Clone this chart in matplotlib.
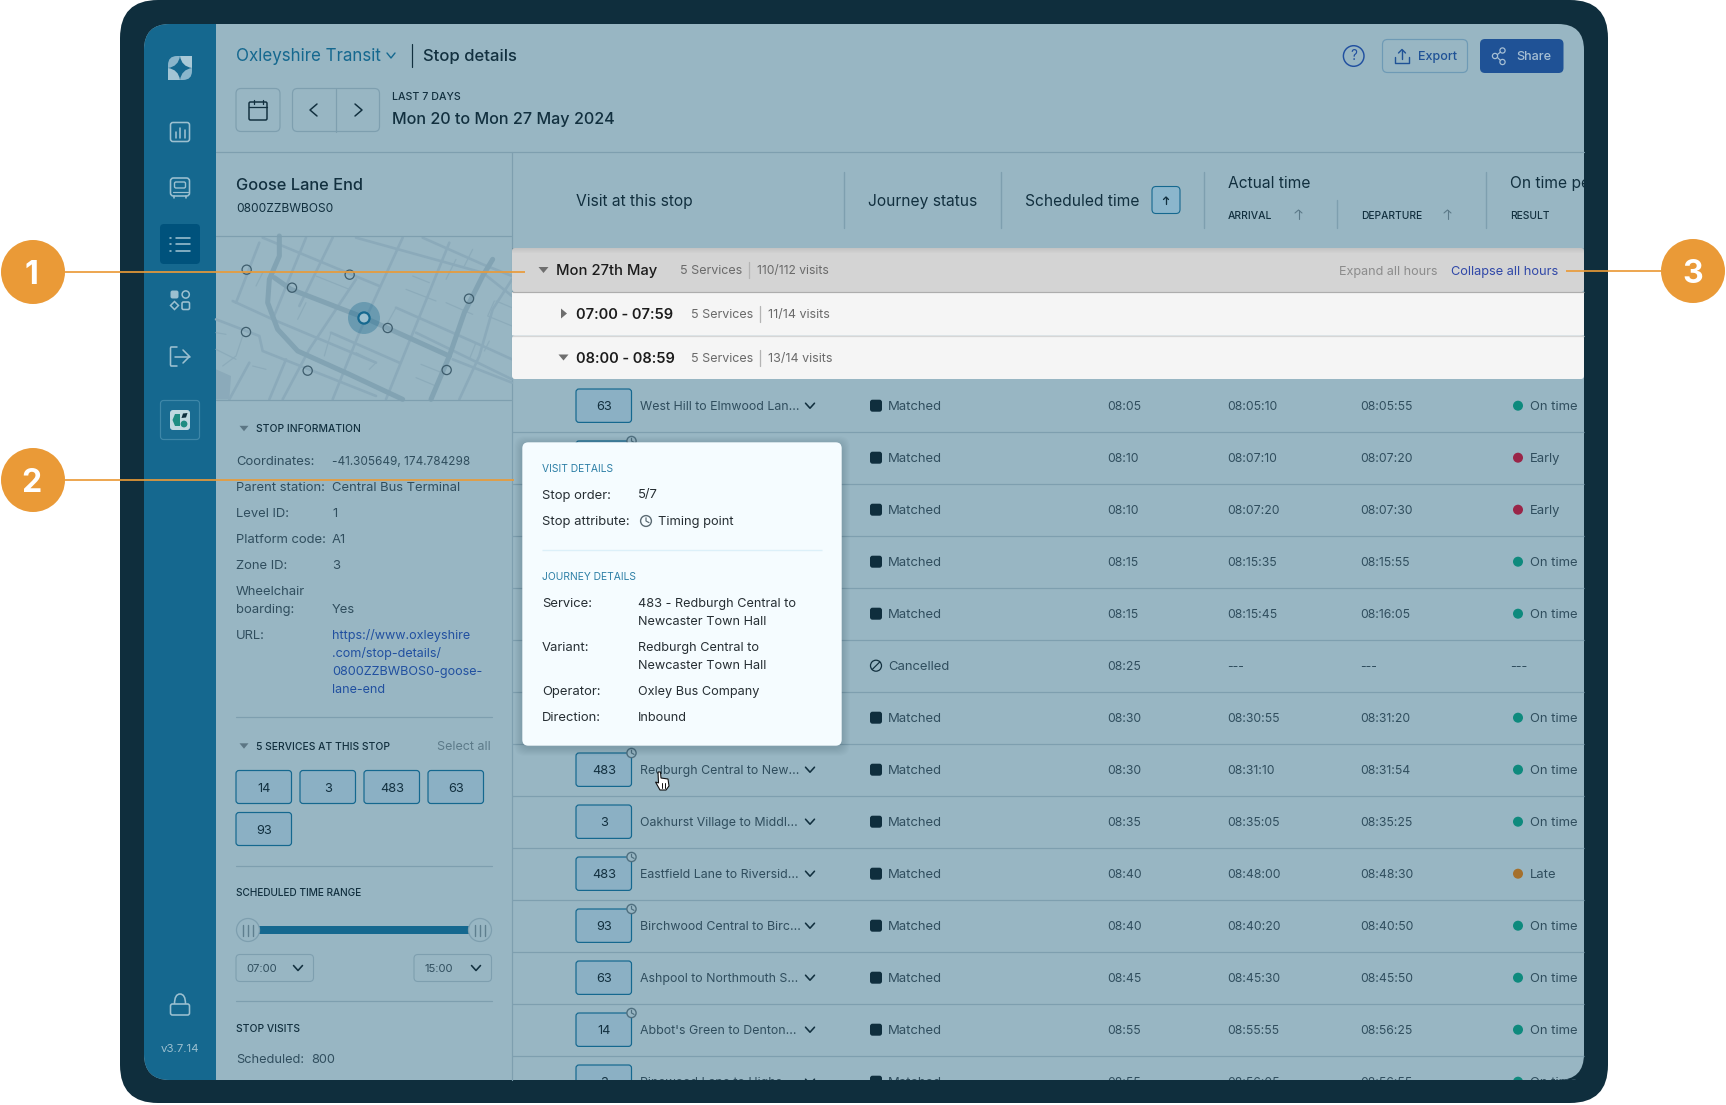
import matplotlib
matplotlib.use("Agg")
import matplotlib.pyplot as plt
from matplotlib.patches import FancyBboxPatch, Circle, Polygon, PathPatch, Rectangle
from matplotlib.path import Path
from matplotlib.transforms import Bbox, TransformedBbox

plt.rcParams['font.family'] = ['Inter', 'DejaVu Sans']

# ---------- data ----------
services = ["63", "", "", "", "", "", "", "483", "3", "483", "93", "63", "14", "3"]
routes = ["West Hill to Elmwood Lan...", "", "", "", "", "", "",
          "Redburgh Central to New...", "Oakhurst Village to Middl...",
          "Eastfield Lane to Riversid...", "Birchwood Central to Birc...",
          "Ashpool to Northmouth S...", "Abbot's Green to Denton...",
          "Pinewood Lane to Highs..."]
timing_point = [0, 1, 0, 0, 0, 0, 0, 1, 0, 1, 1, 0, 1, 0]
statuses = ["Matched"] * 5 + ["Cancelled"] + ["Matched"] * 8
scheduled = ["08:05", "08:10", "08:10", "08:15", "08:15", "08:25", "08:30",
             "08:30", "08:35", "08:40", "08:40", "08:45", "08:55", "08:55"]
arrivals = ["08:05:10", "08:07:10", "08:07:20", "08:15:35", "08:15:45", "---",
            "08:30:55", "08:31:10", "08:35:05", "08:48:00", "08:40:20",
            "08:45:30", "08:55:55", "08:56:05"]
departures = ["08:05:55", "08:07:20", "08:07:30", "08:15:55", "08:16:05", "---",
              "08:31:20", "08:31:54", "08:35:25", "08:48:30", "08:40:50",
              "08:45:50", "08:56:25", "08:56:55"]
results = ["On time", "Early", "Early", "On time", "On time", "---", "On time",
           "On time", "On time", "Late", "On time", "On time", "On time", "On time"]
stop_info = [("Coordinates:", "-41.305649, 174.784298"),
             ("Parent station:", "Central Bus Terminal"),
             ("Level ID:", "1"), ("Platform code:", "A1"), ("Zone ID:", "3")]
url_lines = ["https://www.oxleyshire", ".com/stop-details/",
             "0800ZZBWBOS0-goose-", "lane-end"]
chips = ["14", "3", "483", "63", "93"]
hour_groups = [("07:00 - 07:59", "5 Services", "11/14 visits"),
               ("08:00 - 08:59", "5 Services", "13/14 visits")]

# map decoration, in crop units of one third of a pixel
major_roads = [[(190, 0), (190, 60), (160, 130), (155, 200), (185, 280), (245, 345), (400, 415), (560, 490)],
               [(175, 125), (225, 160), (445, 245), (700, 360)],
               [(830, 70), (800, 120), (745, 230), (700, 360), (645, 490)]]
minor_roads = [[(140, 5), (490, 150)], [(50, 195), (170, 250), (480, 380)],
               [(0, 250), (130, 300), (140, 345), (480, 480)],
               [(420, 5), (800, 110), (888, 180)], [(620, 5), (800, 85), (888, 120)],
               [(345, 290), (550, 380)], [(540, 215), (800, 330), (888, 370)],
               [(600, 290), (888, 430)], [(710, 370), (888, 440)],
               [(60, 200), (130, 20)], [(350, 5), (250, 210)], [(270, 5), (170, 250)],
               [(560, 5), (430, 290), (350, 490)], [(700, 20), (510, 490)],
               [(888, 130), (830, 220), (790, 360), (730, 490)],
               [(420, 130), (280, 340), (200, 490)], [(100, 380), (40, 490)],
               [(210, 370), (160, 490)]]
alleys = [[(300, 120), (400, 160)], [(570, 160), (660, 195)], [(690, 200), (770, 235)],
          [(540, 215), (515, 260)], [(345, 290), (325, 360)],
          [(420, 350), (480, 380), (460, 400)], [(615, 385), (690, 415)], [(600, 425), (660, 450)],
          [(840, 195), (888, 215)], [(835, 195), (815, 240), (888, 270)],
          [(120, 150), (140, 110)], [(0, 290), (30, 295)], [(110, 390), (150, 400)],
          [(780, 320), (760, 370)], [(820, 315), (805, 345)], [(720, 70), (690, 130)],
          [(770, 40), (745, 90)], [(0, 340), (60, 370)], [(270, 200), (245, 250)],
          [(590, 120), (640, 140)], [(80, 300), (60, 360), (20, 390)]]
map_stops = [(92, 101), (401, 116), (228, 155), (759, 188), (90, 288), (515, 276), (275, 404), (692, 402)]
map_shade = [(0, 400), (45, 420), (40, 490), (0, 490)]

# ---------- colours ----------
DEVICE = "#0F2E3D"; SCREEN = "#98B6C3"; SIDE = "#15688F"; ACTIVE = "#00527C"
INK = "#12303F"; MUTED = "#304E5E"; LINE = "#7E9FAF"; ORANGE = "#EA9A37"
LINK = "#2150A0"; CHIP = "#8BB0C4"; CHIPE = "#15688F"; ICON = "#9CC0D0"
DOTS = {"On time": "#0E8A7D", "Early": "#9A2548", "Late": "#A5702C"}

fig = plt.figure(figsize=(17.26, 11.05), dpi=100, facecolor="white")
ax = fig.add_axes([0, 0, 1, 1])
ax.set_xlim(0, 1726); ax.set_ylim(1105, 0); ax.axis("off")
screen_box = TransformedBbox(Bbox([[144, 24], [1584, 1080]]), ax.transData)


def rrect(x0, y0, x1, y1, r=0, fc="none", ec="none", lw=1.0, z=2, alpha=None, clip=None):
    p = FancyBboxPatch((x0, y0), x1 - x0, y1 - y0, boxstyle=f"round,pad=0,rounding_size={max(r, 0.01)}",
                       fc=fc, ec=ec, lw=lw * 0.72, zorder=z, alpha=alpha)
    ax.add_patch(p)
    if clip is not None:
        p.set_clip_path(clip)
    return p


def T(x, y, s, px=13, color=INK, ha="left", weight="normal", z=3, clip=None):
    t = ax.text(x, y + 0.36 * px, s, fontsize=px * 0.72, color=color, ha=ha, va="baseline",
                fontweight=weight, zorder=z)
    if clip is not None:
        t.set_clip_box(screen_box)
        t.set_clip_on(True)
    return t


def L(xs, ys, color=LINE, lw=1.0, z=2, clip=None, cap="round"):
    ln, = ax.plot(xs, ys, color=color, lw=lw * 0.72, zorder=z, solid_capstyle=cap, solid_joinstyle="round")
    if clip is not None:
        ln.set_clip_path(clip)
    return ln


def chevron(cx, cy, w=4.5, h=2.5, color=INK, lw=1.6, z=3, clip=None):
    L([cx - w, cx, cx + w], [cy - h, cy + h, cy - h], color, lw, z, clip)


def tri_down(cx, cy, s=5, color="#5C7684", z=3):
    ax.add_patch(Polygon([(cx - s, cy - s * 0.6), (cx + s, cy - s * 0.6), (cx, cy + s * 0.6)], fc=color, ec="none", zorder=z))


def tri_right(cx, cy, s=5, color="#6E6E6E", z=3):
    ax.add_patch(Polygon([(cx - s * 0.6, cy - s), (cx - s * 0.6, cy + s), (cx + s * 0.6, cy)], fc=color, ec="none", zorder=z))


def clock(cx, cy, r=4.6, color="#4F6F7F", z=4, fc="none", clip=None):
    c = Circle((cx, cy), r, fc=fc, ec=color, lw=1.0, zorder=z)
    ax.add_patch(c)
    if clip is not None:
        c.set_clip_path(clip)
    L([cx, cx, cx + r * 0.55], [cy - r * 0.6, cy, cy + r * 0.3], color, 1.2, z, clip)


# ---------- device ----------
rrect(120, 0, 1608, 1103, r=38, fc=DEVICE, z=0)
screen = rrect(144, 24, 1584, 1080, r=26, fc=SCREEN, z=1)
sb = Rectangle((144, 24), 72, 1056, fc=SIDE, ec="none", zorder=1.1)
ax.add_patch(sb); sb.set_clip_path(screen)

# sidebar: logo
star = Path([(180, 56), (181.5, 66.5), (192, 68), (181.5, 69.5), (180, 80), (178.5, 69.5), (168, 68), (178.5, 66.5), (180, 56)],
            [Path.MOVETO] + [Path.CURVE3] * 8)
for x0, y0, c in [(168, 56, "#8AB5CB"), (180, 56, "#A9C9D7"), (168, 68, "#A3C5D5"), (180, 68, "#8AB6CC")]:
    ax.add_patch(Rectangle((x0, y0), 12, 12, fc=c, ec="none", zorder=2))
ax.add_patch(PathPatch(star, fc=SIDE, ec="none", zorder=2.1))
for cx, cy, sx, sy in [(168, 56, 1, 1), (192, 80, -1, -1)]:
    corner = Path([(cx, cy), (cx + sx * 9, cy), (cx, cy), (cx, cy + sy * 9), (cx, cy)],
                  [Path.MOVETO, Path.LINETO, Path.CURVE3, Path.CURVE3, Path.CLOSEPOLY])
    ax.add_patch(PathPatch(corner, fc=SIDE, ec="none", zorder=2.1))

# sidebar: chart icon
rrect(170.5, 122.5, 189.5, 141.5, r=2.5, ec=ICON, lw=1.6)
for x, top in [(175.5, 132), (180, 127.5), (184.5, 130)]:
    L([x, x], [top, 137.5], ICON, 1.6)
# bus icon
rrect(170.5, 178, 189.5, 196, r=3, ec=ICON, lw=1.6)
rrect(174.5, 182, 185.5, 188, r=1.5, ec=ICON, lw=1.4)
L([172.5, 187.5], [191.5, 191.5], ICON, 1.2)
L([174, 174], [196, 198], ICON, 1.6); L([186, 186], [196, 198], ICON, 1.6)
# active list
rrect(160, 224, 200, 264, r=4, fc=ACTIVE)
for y in [237.5, 244, 250.5]:
    L([170.3, 170.6], [y, y], ICON, 1.6)
    L([175.5, 189.5], [y, y], ICON, 1.6)
# apps icon
rrect(170.5, 290.5, 178.5, 298.5, r=2, fc=ICON)
ax.add_patch(Circle((185.7, 294.5), 3.6, fc="none", ec=ICON, lw=1.1, zorder=3))
ax.add_patch(Polygon([(174.5, 301.5), (178.5, 305.5), (174.5, 309.5), (170.5, 305.5)], fc="none", ec=ICON, lw=1.1, zorder=3))
rrect(182, 302, 189.5, 309.5, r=1.5, ec=ICON, lw=1.6)
# logout icon
L([177, 171, 170.5, 170.5, 171, 177], [347, 347, 348, 365, 366, 366], ICON, 1.6)
L([175, 189.5], [356.5, 356.5], ICON, 1.6)
L([183, 189.5, 183], [350, 356.5, 363], ICON, 1.6)
# app box
rrect(160.5, 400.5, 199.5, 439.5, r=3, fc="#1A6C92", ec="#3E87A8", lw=1.2)
rrect(170, 410, 190, 430, r=3, fc="#C0D8E0")
ax.add_patch(Polygon([(175, 414), (180, 414), (180, 426), (175, 426), (172.5, 420)], fc="#1E8C82", ec="none", zorder=3))
ax.add_patch(Circle((184, 424), 3.4, fc="#1E8C82", ec="none", zorder=3))
ax.add_patch(Polygon([(181.5, 418), (183, 413.5), (187.5, 413), (186, 417.5)], fc=DEVICE, ec="none", zorder=3))
# lock
rrect(170.5, 1004, 189.5, 1015, r=2, ec=ICON, lw=1.6)
lock = Path([(174.5, 1004), (174.5, 994), (180, 994), (185.5, 994), (185.5, 1004)],
            [Path.MOVETO, Path.CURVE3, Path.CURVE3, Path.CURVE3, Path.CURVE3])
ax.add_patch(PathPatch(lock, fc="none", ec=ICON, lw=1.15, zorder=3))
T(180, 1048, "v3.7.14", 11.5, ICON, ha="center")

# ---------- header ----------
T(236, 55, "Oxleyshire Transit", 17, SIDE)
chevron(391, 55.5, 4, 2.5, SIDE, 1.4)
L([411.7, 411.7], [44, 67], INK, 1.2)
T(423, 55, "Stop details", 16.7, INK, weight="medium")
rrect(236, 88.5, 280, 131.5, r=5, ec=LINE, lw=1.2)
rrect(249, 102, 267, 120, r=1.5, ec=INK, lw=1.5)
L([249, 267], [107, 107], INK, 1.3)
L([253.5, 253.5], [100, 104], INK, 1.3); L([262.5, 262.5], [100, 104], INK, 1.3)
rrect(292.5, 88.5, 379.5, 131.5, r=5, ec=LINE, lw=1.2)
L([336, 336], [88.5, 131.5], LINE, 1.2)
L([317, 310, 317], [104, 110, 116], INK, 1.5)
L([355, 362, 355], [104, 110, 116], INK, 1.5)
T(392, 96.2, "LAST 7 DAYS", 10.6, INK, weight="medium")
T(392, 118, "Mon 20 to Mon 27 May 2024", 16.2, INK, weight="medium")

ax.add_patch(Circle((1353.7, 56), 10.3, fc="none", ec=LINK, lw=1.05, zorder=3))
T(1353.7, 55.5, "?", 13.5, LINK, ha="center")
rrect(1382.5, 39.5, 1467.5, 72.5, r=5, ec="#6E9AB5", lw=1.2)
L([1395, 1395, 1409, 1409], [57, 62.5, 62.5, 57], "#1F5296", 1.4)
L([1402, 1402], [50, 59], "#1F5296", 1.4)
L([1398.5, 1402, 1405.5], [53, 49.5, 53], "#1F5296", 1.4)
T(1418, 55.5, "Export", 12.6, "#1F5296", weight="medium")
rrect(1480, 39, 1563.5, 73, r=5, fc="#1F5296")
for x, y in [(1502.5, 50.5), (1495, 56), (1502.5, 62)]:
    ax.add_patch(Circle((x, y), 2.6, fc="none", ec="#A6BFD4", lw=0.9, zorder=3))
L([1497.5, 1500.5], [54.5, 52], "#A6BFD4", 1.2); L([1497.5, 1500.5], [57.5, 60.5], "#A6BFD4", 1.2)
T(1516, 55.5, "Share", 12.6, "#A6BFD4", weight="medium")

L([216, 1584], [151.5, 151.5], LINE, 1.2, z=1.5)
L([511.5, 511.5], [152, 1080], LINE, 1.2, z=1.5)

# ---------- left panel ----------
T(236, 183.7, "Goose Lane End", 16.4, INK, weight="medium")
T(236, 207.5, "0800ZZBWBOS0", 12, INK)
L([216, 511], [236, 236], LINE, 1.2)
L([216, 511], [399.5, 399.5], LINE, 1.2)


def mp(points):
    return [216 + p[0] / 3 for p in points], [236 + p[1] / 3 for p in points]


for road in alleys:
    L(*mp(road), color="#8CABBA", lw=1.2, z=1.6)
for road in minor_roads:
    L(*mp(road), color="#8BAABA", lw=2.6, z=1.7)
for road in major_roads:
    L(*mp(road), color="#82A3B3", lw=5, z=1.8)
sx_, sy_ = mp(map_shade)
ax.add_patch(Polygon(list(zip(sx_, sy_)), fc="#8BAABA", ec="none", zorder=1.65))
mx, my = mp(map_stops)
for x, y in zip(mx, my):
    ax.add_patch(Circle((x, y), 4.6, fc="none", ec="#3E5D6D", lw=0.9, zorder=2.5))
ax.add_patch(Circle((216 + 444 / 3, 236 + 246 / 3), 16, fc="#15688F", alpha=0.35, ec="none", zorder=2.4))
ax.add_patch(Circle((216 + 444 / 3, 236 + 246 / 3), 5.6, fc="#9CC0D0", ec=SIDE, lw=1.6, zorder=2.6))

tri_down(244, 428.5, 4.5)
T(256, 428.5, "STOP INFORMATION", 10.3, INK, weight="medium")
for i, (k, v) in enumerate(stop_info):
    y = 460.7 + 26 * i
    T(236, y, k, 13, MUTED)
    T(332, y, v, 11.8 if i == 0 else 13, MUTED)
T(236, 590.7, "Wheelchair", 13, MUTED); T(236, 608.7, "boarding:", 13, MUTED); T(332, 608.7, "Yes", 13, MUTED)
T(236, 634.7, "URL:", 13, MUTED)
for i, s in enumerate(url_lines):
    T(332, 634.7 + 18 * i, s, 12.6, LINK)
L([236, 492], [717.3, 717.3], LINE, 1.2)
tri_down(244, 746, 4.5)
T(256, 746.5, "5 SERVICES AT THIS STOP", 10.3, INK, weight="medium")
T(491, 746, "Select all", 12.5, "#5C7A89", ha="right")
chip_x = [236, 300, 364, 428, 236]
chip_y = [770.5, 770.5, 770.5, 770.5, 812.5]
for x, y, s in zip(chip_x, chip_y, chips):
    rrect(x, y, x + 55.5, y + 33, r=3, fc=CHIP, ec=CHIPE, lw=1.2)
    T(x + 28, y + 16.5, s, 12.8, INK, ha="center")
L([236, 492], [865.5, 865.5], LINE, 1.2)
T(236, 892.5, "SCHEDULED TIME RANGE", 10.1, INK, weight="medium")
L([248, 480], [930, 930], SIDE, 8, cap="butt")
for cx in [248, 480]:
    ax.add_patch(Circle((cx, 930), 11.5, fc=SCREEN, ec="#7E9FAF", lw=0.9, zorder=3))
    for d in [-5, 0, 5]:
        L([cx + d, cx + d], [925, 935.5], "#5F7F8F", 1.4, z=3.1)
for x0, x1, s in [(236, 313.5, "07:00"), (414, 491.5, "15:00")]:
    rrect(x0, 954.5, x1, 981.5, r=4, ec=LINE, lw=1.1)
    T(x0 + 10, 968, s, 11.3, MUTED)
    chevron(x1 - 15.5, 968, 4.5, 2.5, INK, 1.6)
L([236, 492], [1001, 1001], LINE, 1.2)
T(236, 1028, "STOP VISITS", 10.3, INK, weight="medium")
T(236, 1058, "Scheduled:", 12.8, MUTED); T(311, 1058, "800", 12.8, MUTED)

# ---------- table header ----------
for x, y0, y1 in [(844, 172, 228), (1001, 172, 228), (1203.7, 172, 228), (1337, 200, 228), (1485.6, 172, 228)]:
    L([x, x], [y0, y1], LINE, 1.4)
T(576, 200, "Visit at this stop", 15.6, INK)
T(867.5, 200, "Journey status", 15.6, INK)
T(1025, 200, "Scheduled time", 15.6, INK)
rrect(1152, 186.5, 1180, 213.5, r=4, fc="#8BB6CC", ec=SIDE, lw=1.1)
L([1166, 1166], [197, 204], INK, 1.3); L([1163.5, 1166, 1168.5], [199.5, 197, 199.5], INK, 1.3)
T(1228, 182, "Actual time", 15.6, INK)
T(1228, 215.7, "ARRIVAL", 10.4, INK, weight="medium")
T(1361, 215.7, "DEPARTURE", 10.2, INK, weight="medium")
for x in [1298.5, 1447.5]:
    L([x, x], [210, 219], "#5C7A89", 1.1); L([x - 3.5, x, x + 3.5], [213, 210, 213], "#5C7A89", 1.1)
T(1510, 182, "On time performance", 15.6, INK, clip=screen)
T(1510, 215.7, "RESULT", 10.2, INK, weight="medium")

# ---------- group bands ----------
rrect(512, 248, 1584, 292, r=3, fc="#D4D4D4", z=2.2)
for k in range(5):
    rrect(512, 248 + k, 1584, 249 + k, fc="#000000", alpha=0.015 * (5 - k), z=2.25)
rrect(512, 292, 1584, 335.5, fc="#F5F5F5", z=2.2)
rrect(512, 335.5, 1584, 379, r=3, fc="#F5F5F5", z=2.2)
L([512, 1584], [292, 292], "#ADADAD", 1.2, z=2.3, cap="butt")
L([512, 1584], [335.5, 335.5], "#D6D6D6", 1.2, z=2.3, cap="butt")

tri_down(543.5, 270, 5, "#6E6E6E")
T(556, 269.5, "Mon 27th May", 14.8, "#1C1C1C", weight="medium")
T(680, 270, "5 Services", 12.5, "#6A6A6A")
L([749, 749], [262, 278], "#B4B4B4", 1.3, z=3)
T(757, 270, "110/112 visits", 12.1, "#6A6A6A")
T(1339, 270, "Expand all hours", 12.6, "#8C8C8C")
T(1451, 270, "Collapse all hours", 12.8, "#3048A8")
for i, (rng, svc, vis) in enumerate(hour_groups):
    y = 313.5 + 44 * i
    if i == 0:
        tri_right(564, y, 5, "#6E6E6E")
    else:
        tri_down(563.5, y, 5, "#6E6E6E")
    T(576, y, rng, 14.6, "#1C1C1C", weight="semibold")
    T(691, y, svc, 12.5, "#6A6A6A")
    L([759.5, 759.5], [y - 8, y + 8], "#B4B4B4", 1.3, z=3)
    T(768, y, vis, 12.5, "#6A6A6A")

# ---------- table rows ----------
for i in range(len(scheduled)):
    y = 405.7 + 52 * i
    if y + 26 < 1080:
        L([512, 1584], [y + 26, y + 26], LINE, 1.2, cap="butt")
    p = rrect(576, y - 16.7, 631.5, y + 16.7, r=3, fc=CHIP, ec=CHIPE, lw=1.2, clip=screen)
    T(604, y, services[i], 12.8, INK, ha="center", clip=screen)
    T(640, y, routes[i], 12.4, MUTED, clip=screen)
    if routes[i]:
        chevron(810, y, 4.5, 2.5, INK, 1.6, clip=screen)
    if timing_point[i]:
        clock(631.5, y - 16.7, fc=SCREEN, clip=screen)
    if statuses[i] == "Matched":
        rrect(870, y - 6, 882, y + 6, r=2.5, fc=DEVICE, clip=screen)
    else:
        c = Circle((876, y), 5.5, fc="none", ec=INK, lw=0.9, zorder=3)
        ax.add_patch(c)
        L([872.3, 879.7], [y + 3.7, y - 3.7], INK, 1.2)
    T(888, y, statuses[i], 13, MUTED, clip=screen)
    T(1107.5, y, scheduled[i], 12.2, MUTED, clip=screen)
    T(1227.5, y, arrivals[i], 12.2, MUTED, clip=screen)
    T(1360.5, y, departures[i], 12.2, MUTED, clip=screen)
    if results[i] in DOTS:
        c = Circle((1518, y), 5, fc=DOTS[results[i]], ec="none", zorder=3)
        ax.add_patch(c); c.set_clip_path(screen)
        T(1530, y, results[i], 13, MUTED, clip=screen)
    else:
        T(1510, y, results[i], 12.5, MUTED, clip=screen)

# ---------- popover ----------
for k in range(8):
    rrect(522.3 - 8 + k, 442.3 - 6 + k, 841.7 + 8 - k, 745.7 + 10 - k, r=10, fc="#1A3A4A", alpha=0.022, z=5)
rrect(522.3, 442.3, 841.7, 745.7, r=6, fc="#F5FCFF", z=6)
POP = "#262E33"; HEAD = "#2D7FA6"
T(542, 468.5, "VISIT DETAILS", 10.3, HEAD, z=7)
T(542, 494.5, "Stop order:", 13, POP, z=7); T(638, 493.7, "5/7", 13, POP, z=7)
T(542, 520.5, "Stop attribute:", 13, POP, z=7)
clock(646, 521, 5.4, "#5B6A72", z=7)
T(658, 520.5, "Timing point", 12.9, POP, z=7)
L([542, 822], [550, 550], "#DCF0F9", 1.4, z=7, cap="butt")
T(542, 576.5, "JOURNEY DETAILS", 10.3, HEAD, z=7)
T(542, 602.7, "Service:", 13, POP, z=7)
T(638, 602.7, "483 - Redburgh Central to", 12.7, POP, z=7)
T(638, 620.7, "Newcaster Town Hall", 12.7, POP, z=7)
T(542, 646.7, "Variant:", 13, POP, z=7)
T(638, 646.7, "Redburgh Central to", 12.7, POP, z=7)
T(638, 664.7, "Newcaster Town Hall", 12.7, POP, z=7)
T(542, 690.7, "Operator:", 13, POP, z=7); T(638, 690.7, "Oxley Bus Company", 12.7, POP, z=7)
T(542, 716.7, "Direction:", 13, POP, z=7); T(638, 716.7, "Inbound", 12.7, POP, z=7)

# cursor
hand = [(658, 772), (660.5, 772), (661, 778), (668, 779), (669, 786), (666, 790), (660, 790), (655.5, 782), (658.5, 783)]
ax.add_patch(Polygon(hand, fc="white", ec="#111111", lw=0.8, zorder=8))
for x in [662, 664.5]:
    L([x, x], [783, 788], "#111111", 1, z=8.1)

# ---------- callouts ----------
L([65, 525], [272, 272], ORANGE, 1.7, z=9, cap="butt")
L([65, 514], [480, 480], ORANGE, 1.7, z=9, cap="butt")
L([1566, 1661], [271, 271], ORANGE, 1.7, z=9, cap="butt")
for cx, cy, s, off in [(33, 272, "1", -2), (33, 480, "2", -1.5), (1693, 271, "3", 0)]:
    ax.add_patch(Circle((cx, cy), 32, fc=ORANGE, ec="none", zorder=10))
    T(cx + off, cy, s, 32, "white", ha="center", weight="bold", z=11)

fig.savefig("out.png", dpi=100, facecolor="white")
